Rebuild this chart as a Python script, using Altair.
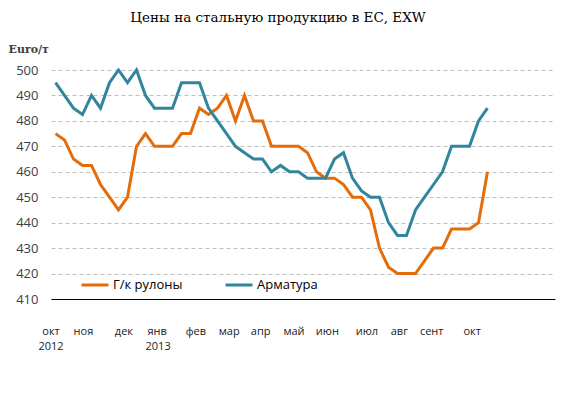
import altair as alt
import pandas as pd

week = list(range(49))
hr_coil = [475, 472.5, 465, 462.5, 462.5, 455, 450, 445, 450, 470,
           475, 470, 470, 470, 475, 475, 485, 482.5, 485, 490,
           480, 490, 480, 480, 470, 470, 470, 470, 467.5, 460,
           457.5, 457.5, 455, 450, 450, 445, 430, 422.5, 420, 420,
           420, 425, 430, 430, 437.5, 437.5, 437.5, 440, 460]
rebar = [495, 490, 485, 482.5, 490, 485, 495, 500, 495, 500,
         490, 485, 485, 485, 495, 495, 495, 485, 480, 475,
         470, 467.5, 465, 465, 460, 462.5, 460, 460, 457.5, 457.5,
         457.5, 465, 467.5, 457.5, 452.5, 450, 450, 440, 435, 435,
         445, 450, 455, 460, 470, 470, 470, 480, 485]
series_names = ["Г/к рулоны", "Арматура"]
series_colors = ["#E46C0A", "#31859C"]

month_names = ["окт", "ноя", "дек", "янв", "фев", "мар", "апр", "май",
               "июн", "июл", "авг", "сент", "окт"]
month_pos = [-0.5, 3.1, 7.6, 11.3, 15.6, 19.3, 22.8, 26.5, 30.2, 34.6, 38.2, 41.8, 46.3]
year_names = ["2012", "2013"]
year_pos = [-0.5, 11.4]
y_ticks = [410, 420, 430, 440, 450, 460, 470, 480, 490, 500]

df = pd.DataFrame({
    "week": week * 2,
    "value": hr_coil + rebar,
    "series": [series_names[0]] * len(week) + [series_names[1]] * len(week),
})
months_df = pd.DataFrame({"pos": month_pos, "label": month_names})
years_df = pd.DataFrame({"pos": year_pos, "label": year_names})

x_scale = alt.Scale(domain=[-0.5, 55.5], nice=False, zero=False)

lines = alt.Chart(df).mark_line(strokeWidth=3).encode(
    x=alt.X("week:Q", scale=x_scale,
            axis=alt.Axis(title=None, labels=False, ticks=False, grid=False,
                          domainColor="black", domainWidth=1, zindex=1)),
    y=alt.Y("value:Q", scale=alt.Scale(domain=[410, 500], nice=False, zero=False),
            axis=alt.Axis(values=y_ticks, title="Euro/т", titleAngle=0,
                          titleAlign="left", titleBaseline="middle",
                          titleX=-43, titleY=-21, titleFont="DejaVu Serif",
                          titleFontSize=11, titleFontWeight="bold", titleColor="#404040",
                          grid=True, gridDash=[4, 3], gridColor="#bfbfbf", gridWidth=1,
                          domain=False, ticks=False, labelPadding=13,
                          labelFont="Open Sans", labelFontSize=13, labelColor="#404040")),
    color=alt.Color("series:N",
                    scale=alt.Scale(domain=series_names, range=series_colors),
                    legend=alt.Legend(title=None, orient="none", legendX=29, legendY=200,
                                      direction="horizontal", symbolType="stroke",
                                      symbolStrokeWidth=3, symbolSize=729,
                                      labelFont="Open Sans", labelFontSize=13,
                                      labelColor="black", columnPadding=36,
                                      labelOffset=3, padding=0)),
    order=alt.Order("week:Q"),
)

months = alt.Chart(months_df).mark_text(font="Open Sans", fontSize=11, color="#222222",
                                         baseline="middle").encode(
    x=alt.X("pos:Q", scale=x_scale), y=alt.value(262), text="label:N")
years = alt.Chart(years_df).mark_text(font="Open Sans", fontSize=11, color="#222222",
                                       baseline="middle").encode(
    x=alt.X("pos:Q", scale=x_scale), y=alt.value(277), text="label:N")

chart = alt.layer(lines, months, years).properties(
    width=504, height=229,
    title=alt.TitleParams("Цены на стальную продукцию в ЕС, EXW", font="DejaVu Serif",
                          fontSize=13.5, fontWeight="normal", color="black",
                          anchor="middle", offset=19, dx=-25),
    autosize=alt.AutoSizeParams(type="none"),
    padding={"left": 43, "top": 62, "right": 16, "bottom": 80},
).configure_view(stroke=None)

chart.save("out.html", embed_options={"renderer": "svg", "actions": False})
